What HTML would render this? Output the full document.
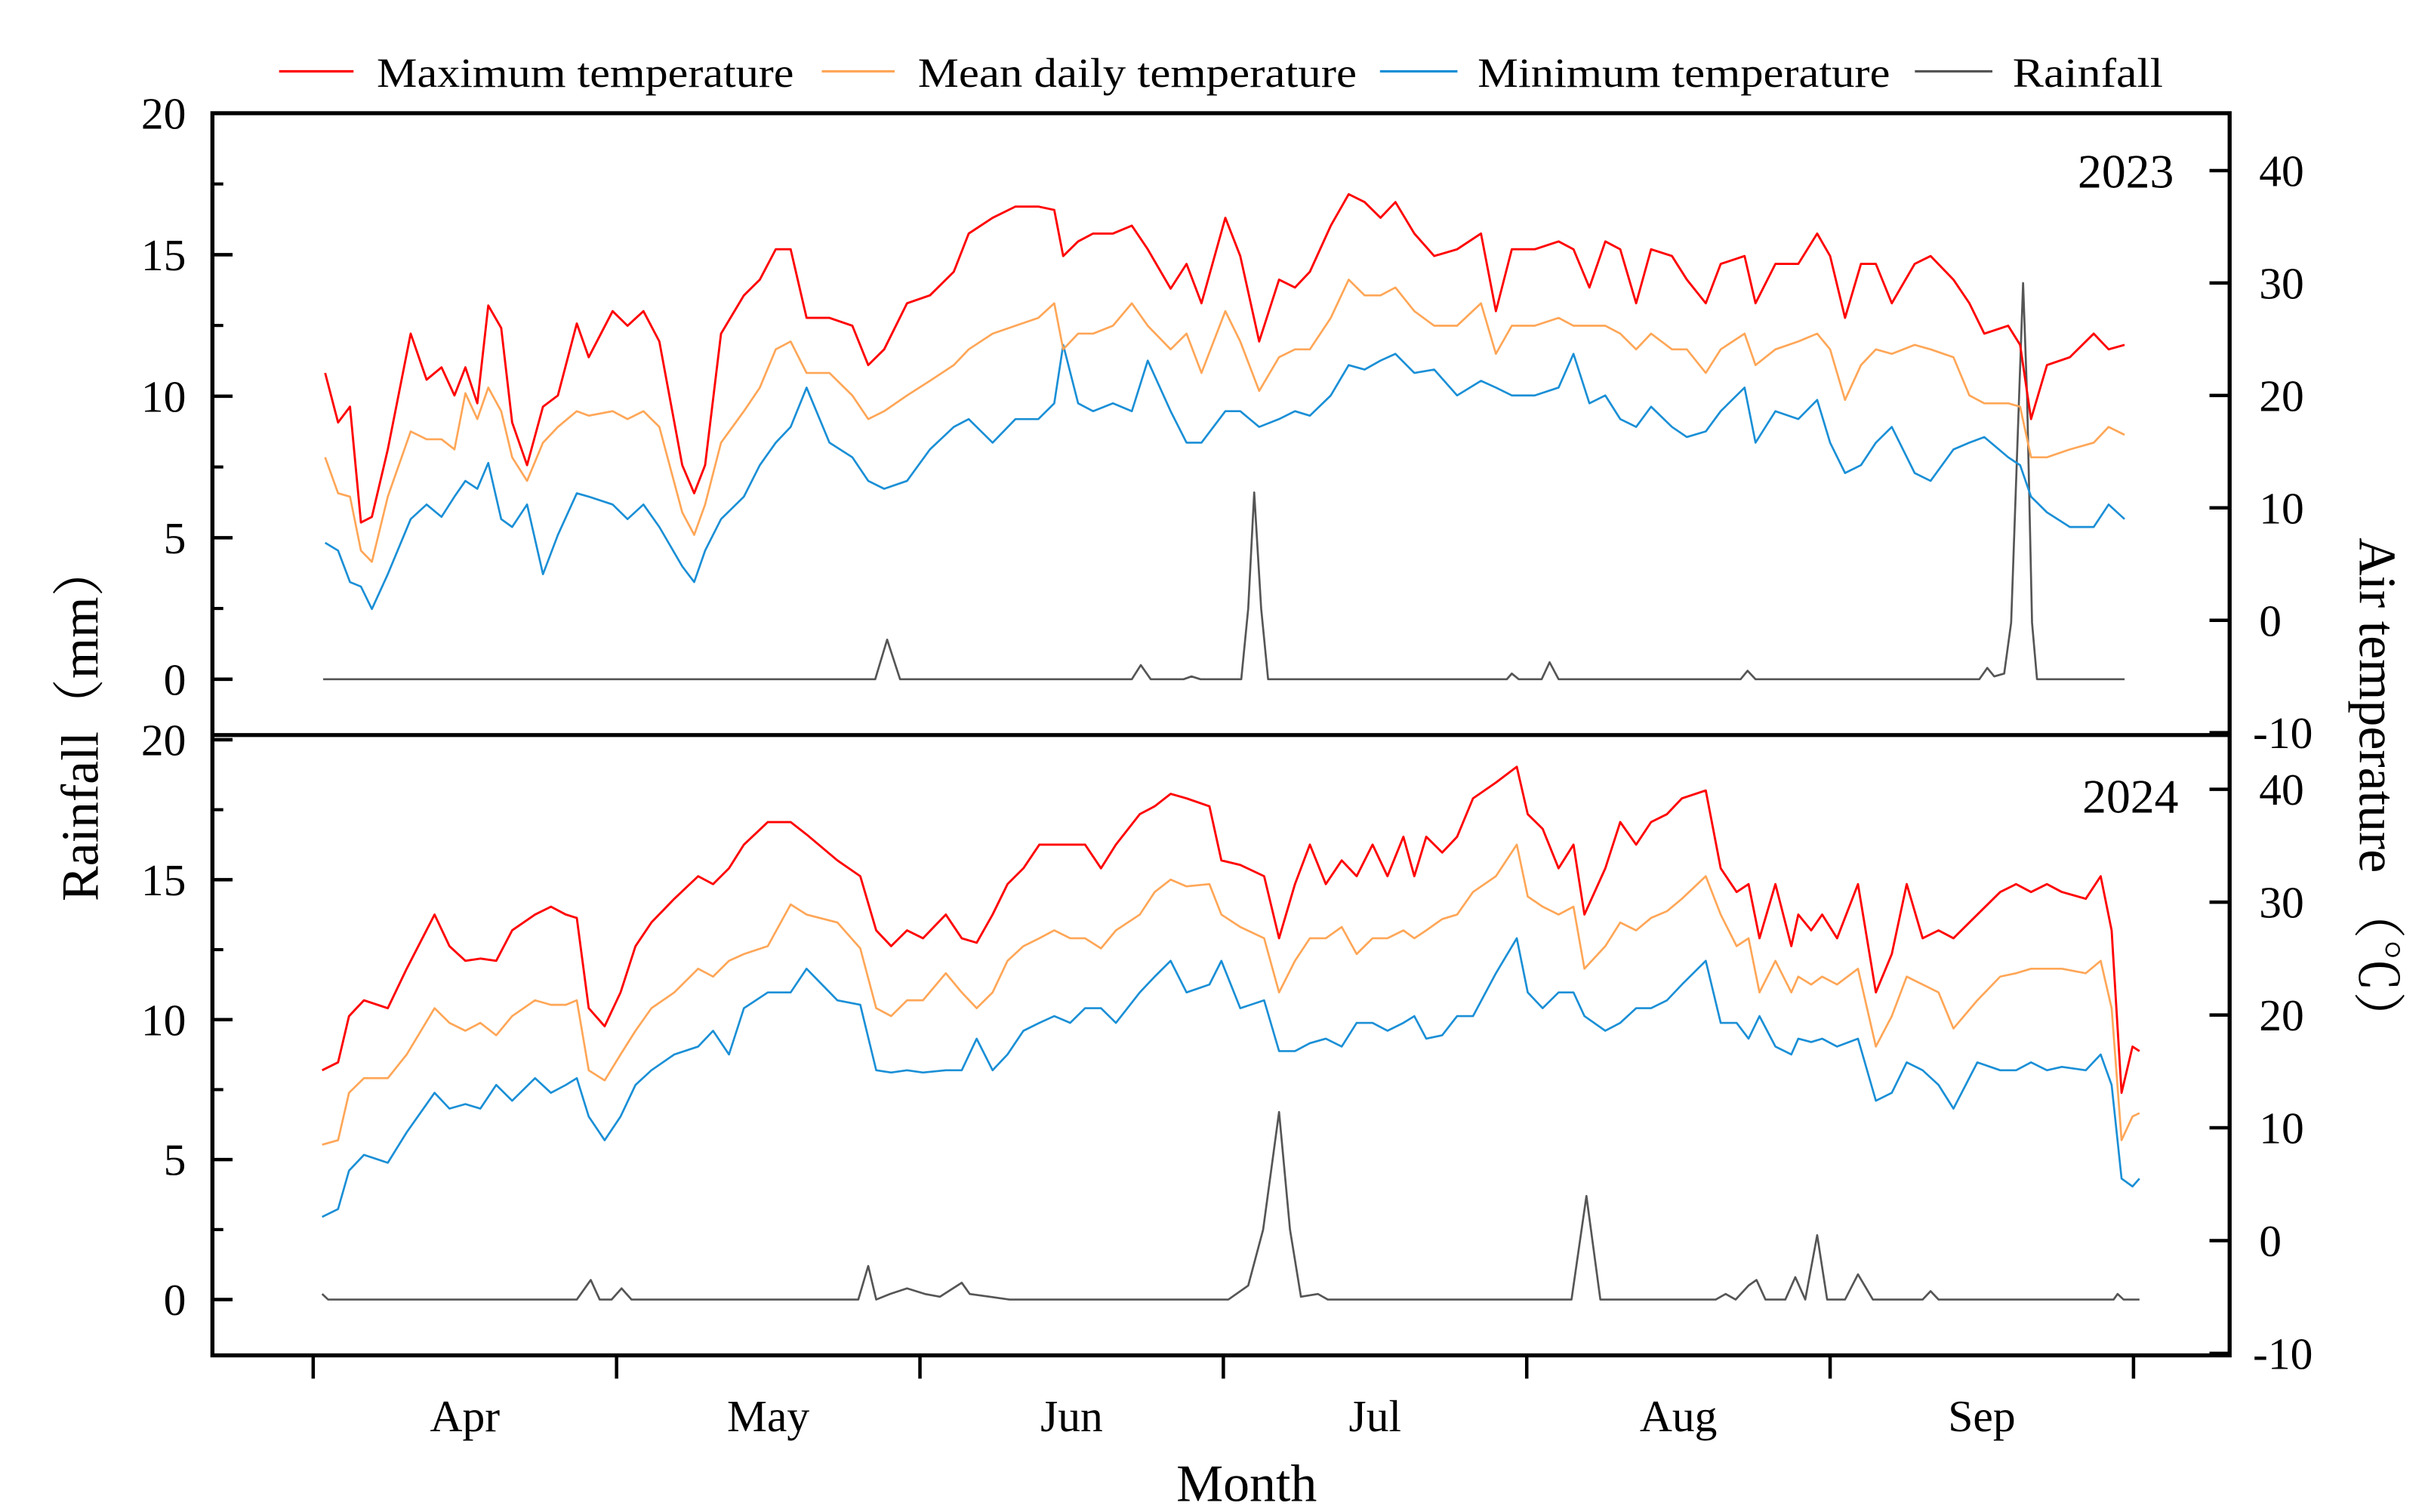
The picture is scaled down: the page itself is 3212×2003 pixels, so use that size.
<!DOCTYPE html>
<html><head><meta charset="utf-8"><style>
html,body{margin:0;padding:0;background:#fff;}
svg{display:block;}
text{font-family:"Liberation Serif","Noto Serif CJK SC",serif;fill:#000;}
</style></head><body>
<svg id="chart" width="3212" height="2003" viewBox="0 0 1564 975" preserveAspectRatio="none" xmlns="http://www.w3.org/2000/svg">
<g id="legend">
 <g><line x1="180" y1="46" x2="228" y2="46" stroke="#ff0000" stroke-width="1.6"/><text x="243" y="56" font-size="27" textLength="269" lengthAdjust="spacingAndGlyphs">Maximum temperature</text></g>
 <g><line x1="530" y1="46" x2="577" y2="46" stroke="#ffa657" stroke-width="1.6"/><text x="592" y="56" font-size="27" textLength="283" lengthAdjust="spacingAndGlyphs">Mean daily temperature</text></g>
 <g><line x1="890" y1="46" x2="940" y2="46" stroke="#1a8fd6" stroke-width="1.6"/><text x="953" y="56" font-size="27" textLength="266" lengthAdjust="spacingAndGlyphs">Minimum temperature</text></g>
 <g><line x1="1235" y1="46" x2="1285" y2="46" stroke="#555" stroke-width="1.6"/><text x="1298" y="56" font-size="27" textLength="97" lengthAdjust="spacingAndGlyphs">Rainfall</text></g>
</g>
<g id="plot"></g>
<g id="axes"></g>
<text x="1402" y="121" font-size="31" text-anchor="end">2023</text>
<text x="1405" y="524" font-size="31" text-anchor="end">2024</text>
<text transform="translate(63,466) rotate(-90)" font-size="34" text-anchor="middle">Rainfall（mm）</text>
<text transform="translate(1522,510) rotate(90)" font-size="34" text-anchor="middle">Air temperature （℃）</text>
<text x="804" y="968" font-size="34" text-anchor="middle">Month</text>
</svg>
<script>
const days23 = [1.2,2.5,3.7,4.8,5.9,7.5,9.8,11.4,12.9,14.2,15.3,16.5,17.6,18.9,20.0,21.5,23.1,24.6,26.5,27.7,30.1,31.6,33.2,34.8,37.1,38.3,39.4,41.0,43.3,44.9,46.5,48.0,49.6,51.9,54.2,55.8,57.4,59.7,62.0,64.4,65.9,68.3,70.6,72.9,74.5,75.4,76.9,78.4,80.4,82.3,83.9,86.2,87.8,89.3,91.7,93.2,95.1,97.1,98.7,100.2,102.3,104.1,105.7,107.3,108.8,110.7,112.7,115.0,117.4,118.9,120.5,122.8,125.2,126.7,128.3,129.9,131.4,133.0,134.5,136.6,138.1,140.0,141.5,143.9,145.0,147.0,149.3,151.2,152.5,154.0,155.6,157.1,158.7,161.0,162.6,164.9,166.5,168.0,170.4,171.6,172.7,174.3,176.6,179.0,180.5,182.1];
const max23 = [22.0,17.6,19.0,8.7,9.2,15.2,25.5,21.4,22.5,20.0,22.5,19.3,28.0,26.0,17.6,13.8,19.0,20.0,26.4,23.4,27.5,26.2,27.5,24.8,13.8,11.3,13.8,25.5,28.9,30.3,33.0,33.0,26.9,26.9,26.2,22.7,24.1,28.2,28.9,31.0,34.4,35.8,36.8,36.8,36.5,32.4,33.7,34.4,34.4,35.1,33.0,29.5,31.7,28.2,35.8,32.4,24.8,30.3,29.6,31.0,35.1,37.9,37.2,35.8,37.2,34.4,32.4,33.0,34.4,27.5,33.0,33.0,33.7,33.0,29.6,33.7,33.0,28.2,33.0,32.4,30.3,28.2,31.7,32.4,28.2,31.7,31.7,34.4,32.4,26.9,31.7,31.7,28.2,31.7,32.4,30.3,28.2,25.5,26.2,24.5,17.9,22.7,23.4,25.5,24.1,24.5];
const mean23 = [14.5,11.3,11.0,6.2,5.2,11.0,16.8,16.1,16.1,15.2,20.2,17.9,20.7,18.6,14.5,12.4,15.8,17.2,18.6,18.2,18.6,17.9,18.6,17.2,9.6,7.6,10.3,15.8,18.6,20.7,24.1,24.8,22.0,22.0,20.0,17.9,18.6,20.0,21.3,22.7,24.1,25.5,26.2,26.9,28.2,24.1,25.5,25.5,26.2,28.2,26.2,24.1,25.5,22.0,27.5,24.8,20.4,23.4,24.1,24.1,26.9,30.3,28.9,28.9,29.6,27.5,26.2,26.2,28.2,23.7,26.2,26.2,26.9,26.2,26.2,26.2,25.5,24.1,25.5,24.1,24.1,22.0,24.1,25.5,22.7,24.1,24.8,25.5,24.1,19.6,22.7,24.1,23.7,24.5,24.1,23.4,20.0,19.3,19.3,19.0,14.5,14.5,15.2,15.8,17.2,16.5];
const min23 = [6.9,6.2,3.4,3.0,1.0,4.1,9.0,10.3,9.2,11.0,12.4,11.7,14.0,9.0,8.3,10.3,4.1,7.6,11.3,11.0,10.3,9.0,10.3,8.3,4.8,3.4,6.2,9.0,11.0,13.8,15.8,17.2,20.7,15.8,14.5,12.4,11.7,12.4,15.2,17.2,17.9,15.8,17.9,17.9,19.3,24.5,19.3,18.6,19.3,18.6,23.1,18.6,15.8,15.8,18.6,18.6,17.2,17.9,18.6,18.2,20.0,22.7,22.3,23.1,23.7,22.0,22.3,20.0,21.3,20.7,20.0,20.0,20.7,23.7,19.3,20.0,17.9,17.2,19.0,17.2,16.3,16.8,18.6,20.7,15.8,18.6,17.9,19.6,15.8,13.1,13.8,15.8,17.2,13.1,12.4,15.2,15.8,16.3,14.5,13.8,11.0,9.6,8.3,8.3,10.3,9.0];
const rainDays23 = [1,56.5,57.7,59,82.3,83.2,84.2,87.5,88.3,89.2,93.3,94,94.6,95.3,96,120,120.5,121.2,123.5,124.3,125.2,143.5,144.2,145,167.5,168.3,169,170,170.7,171.5,171.9,172.3,172.8,173.3,182.1];
const rain23 = [0,0,1.4,0,0,0.5,0,0,0.1,0,0,2.5,6.6,2.5,0,0,0.2,0,0,0.6,0,0,0.3,0,0,0.4,0.1,0.2,2,10,14,10,2,0,0];

const days24 = [0.9,2.5,3.6,5.1,7.5,9.4,12.2,13.7,15.3,16.8,18.4,20.0,22.3,23.9,25.4,26.5,27.7,29.3,30.9,32.4,34.0,36.3,38.7,40.2,41.8,43.3,45.7,48.0,49.6,52.7,55.0,56.6,58.1,59.7,61.3,63.6,65.2,66.7,68.3,69.8,71.4,73.0,74.5,76.1,77.6,79.2,80.7,83.1,84.6,86.2,87.8,90.1,91.3,93.2,95.6,97.1,98.7,100.2,101.8,103.4,104.9,106.5,108.0,109.6,110.7,111.9,113.5,115.0,116.6,118.9,121.0,122.1,123.6,125.2,126.7,127.8,129.9,131.4,133.0,134.5,136.1,137.6,140.0,141.5,143.1,144.3,145.4,147.0,148.6,149.3,150.6,151.7,153.2,155.3,157.1,158.7,160.2,161.8,163.4,164.9,167.3,169.6,171.2,172.7,174.3,175.8,178.2,179.7,180.8,181.8,182.9,183.6];
const max24 = [15.1,15.8,19.9,21.3,20.6,24.1,28.9,26.1,24.8,25.0,24.8,27.5,28.9,29.6,28.9,28.6,20.6,19.0,22.0,26.1,28.2,30.3,32.3,31.6,33.0,35.1,37.1,37.1,36.0,33.7,32.3,27.5,26.1,27.5,26.8,28.9,26.8,26.4,28.9,31.6,33.0,35.1,35.1,35.1,35.1,33.0,35.1,37.8,38.5,39.6,39.2,38.5,33.7,33.3,32.3,26.8,31.6,35.1,31.6,33.7,32.3,35.1,32.3,35.8,32.3,35.8,34.4,35.8,39.2,40.6,42.0,37.8,36.5,33.0,35.1,28.9,33.0,37.1,35.1,37.1,37.8,39.2,39.9,33.0,30.9,31.6,26.8,31.6,26.1,28.9,27.5,28.9,26.8,31.6,22.0,25.4,31.6,26.8,27.5,26.8,28.9,30.9,31.6,30.9,31.6,30.9,30.3,32.3,27.5,13.1,17.2,16.8];
const mean24 = [8.5,8.9,13.1,14.4,14.4,16.5,20.6,19.3,18.6,19.3,18.2,19.9,21.3,20.9,20.9,21.3,15.1,14.2,16.5,18.6,20.6,22.0,24.1,23.4,24.8,25.4,26.1,29.8,28.9,28.2,25.9,20.6,19.9,21.3,21.3,23.7,22.0,20.6,22.0,24.8,26.1,26.8,27.5,26.8,26.8,25.9,27.5,28.9,30.9,32.0,31.4,31.6,28.9,27.8,26.8,22.0,24.8,26.8,26.8,27.8,25.4,26.8,26.8,27.5,26.8,27.5,28.5,28.9,30.9,32.3,35.1,30.5,29.6,28.9,29.6,24.1,26.1,28.2,27.5,28.6,29.2,30.3,32.3,28.9,26.1,26.8,22.0,24.8,22.0,23.4,22.7,23.4,22.7,24.1,17.2,19.9,23.4,22.7,22.0,18.8,21.3,23.4,23.7,24.1,24.1,24.1,23.7,24.8,20.6,8.9,11.0,11.3];
const min24 = [2.1,2.8,6.2,7.6,6.9,9.6,13.1,11.7,12.1,11.7,13.8,12.4,14.4,13.1,13.8,14.4,11.0,8.9,11.0,13.8,15.1,16.5,17.2,18.6,16.5,20.6,22.0,22.0,24.1,21.3,20.9,15.1,14.9,15.1,14.9,15.1,15.1,17.9,15.1,16.5,18.6,19.3,19.9,19.3,20.6,20.6,19.3,22.0,23.4,24.8,22.0,22.7,24.8,20.6,21.3,16.8,16.8,17.5,17.9,17.2,19.3,19.3,18.6,19.3,19.9,17.9,18.2,19.9,19.9,23.7,26.8,22.0,20.6,22.0,22.0,19.9,18.6,19.3,20.6,20.6,21.3,22.7,24.8,19.3,19.3,17.9,19.9,17.2,16.5,17.9,17.6,17.9,17.2,17.9,12.4,13.1,15.8,15.1,13.8,11.7,15.8,15.1,15.1,15.8,15.1,15.4,15.1,16.5,13.8,5.5,4.8,5.5];
const rainDays24 = [0.9,1.5,26.5,27.9,28.8,30,31,32,54.8,55.8,56.6,58,59.7,61.5,63,65.2,66,68,70,92,94,95.5,97.1,98.2,99.3,101,102,126.5,128,129.4,141,142,143,144.3,145.1,146,148,149,150,151.2,152.2,154,155.3,156.8,161.8,162.6,163.4,181,181.4,182,183.6];
const rain24 = [0.2,0,0,0.7,0,0,0.4,0,0,1.2,0,0.2,0.4,0.2,0.1,0.6,0.2,0.1,0,0,0.5,2.5,6.7,2.5,0.1,0.2,0,0,3.7,0,0,0.2,0,0.5,0.7,0,0,0.8,0,2.3,0,0,0.9,0,0,0.3,0,0,0.2,0,0];

const monthLabels = ["Apr","May","Jun","Jul","Aug","Sep"];
const monthTickDays = [0,30.5,61,91.5,122,152.5,183];
const rainTicks = [0,5,10,15,20];
const tempTicks = [-10,0,10,20,30,40];

const NS = "http://www.w3.org/2000/svg";
const X0 = 202, X1 = 1376, DMAX = 183;
function xScale(d){ return X0 + (X1 - X0) * d / DMAX; }
const panels = [
  {name:"2023", rainY:(v)=>438 - v*(438-73)/20, tempY:(v)=>400 - v*(400-110)/40, top:73, bottom:474},
  {name:"2024", rainY:(v)=>838 - v*(838-477)/20, tempY:(v)=>800 - v*(800-509)/40, top:474, bottom:874}
];
const plot = document.getElementById("plot");
const axes = document.getElementById("axes");
function mk(tag, attrs, parent){ const e=document.createElementNS(NS,tag); for(const k in attrs) e.setAttribute(k,attrs[k]); parent.appendChild(e); return e; }
function line(days, vals, yf, color, w, name){
  let d = "";
  for(let i=0;i<days.length;i++){ d += (i?"L":"M") + xScale(days[i]).toFixed(2) + " " + yf(vals[i]).toFixed(2); }
  const p = mk("path",{d:d, fill:"none", stroke:color, "stroke-width":w, "stroke-linejoin":"round"}, plot);
  
  
}
const series = [
  [days23,max23,mean23,min23,rainDays23,rain23],
  [days24,max24,mean24,min24,rainDays24,rain24]
];
panels.forEach((P,i)=>{
  const s = series[i];
  line(s[4], s[5], P.rainY, "#555555", 1.3, "rainfall-line-"+P.name);
  line(s[0], s[3], P.tempY, "#1a8fd6", 1.3, "min-temp-line-"+P.name);
  line(s[0], s[2], P.tempY, "#ffa657", 1.3, "mean-temp-line-"+P.name);
  line(s[0], s[1], P.tempY, "#ff0000", 1.4, "max-temp-line-"+P.name);
  // left ticks
  rainTicks.forEach(t=>{
    const y = P.rainY(t);
    const tk = mk("line",{x1:137,x2:150,y1:y,y2:y,stroke:"#000","stroke-width":2.2},axes);
    
    
    const tx = mk("text",{x:120,y:y+10,"font-size":29,"text-anchor":"end"},axes);
    
    
    tx.textContent = t;
    if(t<20){ const ym = P.rainY(t+2.5);
      const mn = mk("line",{x1:137,x2:144,y1:ym,y2:ym,stroke:"#000","stroke-width":2},axes);
      
       }
  });
  tempTicks.forEach(t=>{
    const y = P.tempY(t);
    const tk = mk("line",{x1:1425,x2:1438,y1:y,y2:y,stroke:"#000","stroke-width":2.2},axes);
    
    
    const tx = mk("text",{x:t<0?1453:1457,y:y+10,"font-size":29,"text-anchor":"start"},axes);
    
    
    tx.textContent = t;
  });
});
// frame
const fr = mk("rect",{x:137,y:73,width:1301,height:801,fill:"none",stroke:"#000","stroke-width":2.6},axes);


const dv = mk("line",{x1:137,x2:1438,y1:474,y2:474,stroke:"#000","stroke-width":2.6},axes);


monthTickDays.forEach(d=>{
  const x = xScale(d);
  const tk = mk("line",{x1:x,x2:x,y1:874,y2:889,stroke:"#000","stroke-width":2.2},axes);
  
  
});
monthLabels.forEach((m,i)=>{
  const x = (xScale(monthTickDays[i]) + xScale(monthTickDays[i+1]))/2;
  const tx = mk("text",{x:x,y:923,"font-size":29,"text-anchor":"middle"},axes);
  
  
  tx.textContent = m;
});
</script>
</body></html>
